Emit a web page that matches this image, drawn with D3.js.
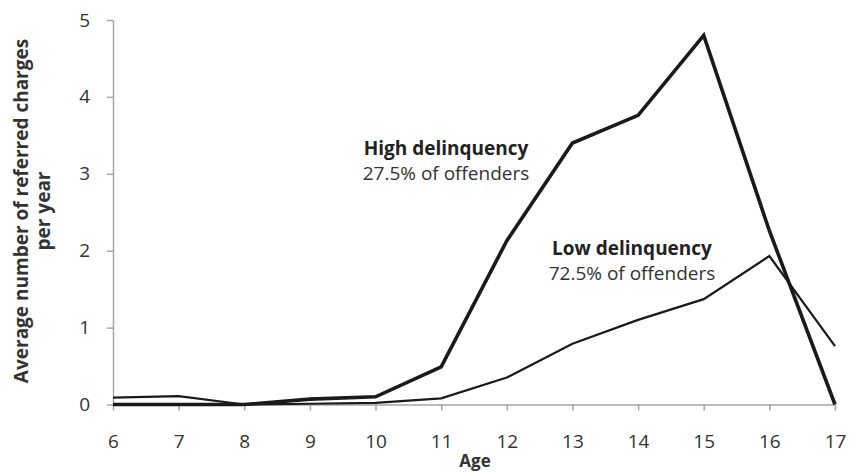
<!DOCTYPE html>
<html>
<head>
<meta charset="utf-8">
<script src="https://cdn.jsdelivr.net/npm/d3@7"></script>
<style>
  body { margin: 0; background: #fff; }
  svg { display: block; font-family: "Open Sans", Lato, sans-serif; }
  .axis path, .axis line { stroke: #a6a6a6; stroke-width: 1.5; }
  .axis text { fill: #333; font-size: 19px; font-family: "Open Sans", sans-serif; }
</style>
</head>
<body>
<div id="chart"></div>
<script>
// ages on the x axis
var ages = [6, 7, 8, 9, 10, 11, 12, 13, 14, 15, 16, 17]
// average referred charges per year
var highValues = [0, 0, 0, 0.07, 0.10, 0.49, 2.13, 3.40, 3.76, 4.80, 2.26, 0]
var lowValues = [0.09, 0.11, 0.0, 0.01, 0.02, 0.08, 0.35, 0.79, 1.10, 1.37, 1.93, 0.76]
var yTicks = [0, 1, 2, 3, 4, 5]

var width = 855, height = 472
var margin = {top: 20, right: 20, bottom: 67, left: 113}

var svg = d3.select("#chart")
  .append("svg")
    .attr("width", width)
    .attr("height", height)

var x = d3.scaleLinear()
    .domain([6, 17])
    .range([margin.left, width - margin.right])

var y = d3.scaleLinear()
    .domain([0, 5])
    .range([height - margin.bottom - 0.5, margin.top])

// x axis
svg.append("g")
    .attr("class", "axis")
    .attr("transform", "translate(0," + y(0) + ")")
    .call(d3.axisBottom(x).tickValues(ages).tickFormat(d3.format("d")).tickSize(6).tickSizeOuter(0).tickPadding(24))

// y axis
svg.append("g")
    .attr("class", "axis")
    .attr("transform", "translate(" + margin.left + ",0)")
    .call(d3.axisLeft(y).tickValues(yTicks).tickFormat(d3.format("d")).tickSize(6).tickSizeOuter(0).tickPadding(17))

// lines
var line = d3.line()
    .x((d, i) => x(ages[i]))
    .y(d => y(d))

svg.append("path")
    .datum(lowValues)
    .attr("fill", "none")
    .attr("stroke", "#1a1a1a")
    .attr("stroke-width", 2.2)
    .attr("d", line)

svg.append("path")
    .datum(highValues)
    .attr("fill", "none")
    .attr("stroke", "#1a1a1a")
    .attr("stroke-width", 3.6)
    .attr("d", line)

// axis titles
svg.append("text")
    .attr("x", (x(6) + x(17)) / 2 + 1)
    .attr("y", 467)
    .attr("text-anchor", "middle")
    .attr("font-weight", "bold")
    .attr("font-size", 17)
    .attr("fill", "#333")
    .text("Age")

var yTitle = svg.append("text")
    .attr("transform", "translate(0,211) rotate(-90)")
    .attr("text-anchor", "middle")
    .attr("font-weight", "bold")
    .attr("font-size", 19)
    .attr("fill", "#333")
yTitle.append("tspan").attr("x", 0).attr("y", 28).text("Average number of referred charges")
yTitle.append("tspan").attr("x", 0).attr("y", 50).text("per year")

// annotations
function label(cx, by, title, sub) {
  svg.append("text")
      .attr("x", cx).attr("y", by)
      .attr("text-anchor", "middle")
      .attr("font-weight", "bold")
      .attr("font-size", 19)
      .attr("fill", "#222")
      .text(title)
  svg.append("text")
      .attr("x", cx).attr("y", by + 25)
      .attr("text-anchor", "middle")
      .attr("font-size", 19)
      .attr("fill", "#333")
      .text(sub)
}
label(446, 155, "High delinquency", "27.5% of offenders")
label(632, 255, "Low delinquency", "72.5% of offenders")
</script>
</body>
</html>
